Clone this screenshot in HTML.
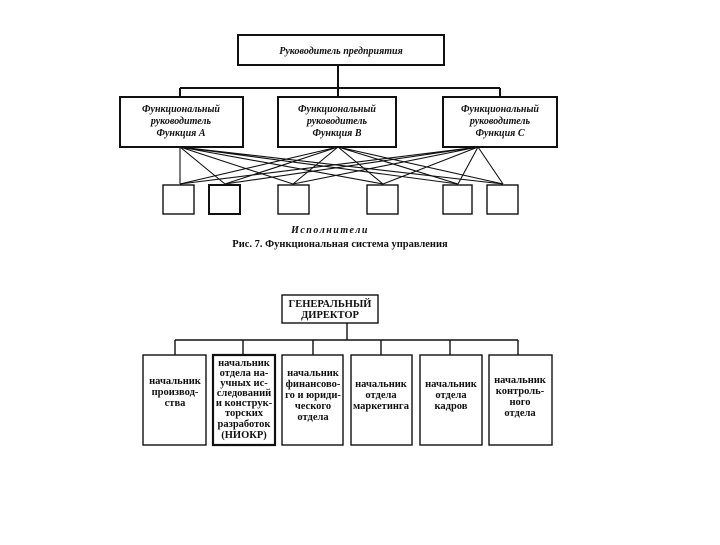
<!DOCTYPE html>
<html><head><meta charset="utf-8"><style>
body{margin:0;background:#fff}
svg text{font-family:"Liberation Serif",serif;fill:#111}
</style></head><body>
<svg width="720" height="540" viewBox="0 0 720 540" xmlns="http://www.w3.org/2000/svg">
<g stroke="#111" fill="none" stroke-width="1.4">
<rect x="238" y="35" width="206" height="30" stroke-width="2"/>
<path d="M338 65V88M180 88H500M180 88V97M338 88V97M500 88V97" stroke-width="2"/>
<rect x="120" y="97" width="123" height="50" stroke-width="2"/>
<rect x="278" y="97" width="118" height="50" stroke-width="2"/>
<rect x="443" y="97" width="114" height="50" stroke-width="2"/>
<g stroke-width="1.1">
<path d="M180 147L180 184M180 147L225 184M180 147L293 184M180 147L383 184M180 147L458 184M180 147L503 184"/>
<path d="M338 147L180 184M338 147L225 184M338 147L293 184M338 147L383 184M338 147L458 184M338 147L503 184"/>
<path d="M478 147L180 184M478 147L225 184M478 147L293 184M478 147L383 184M478 147L458 184M478 147L503 184"/>
</g>
<rect x="163" y="185" width="31" height="29"/>
<rect x="209" y="185" width="31" height="29" stroke-width="2"/>
<rect x="278" y="185" width="31" height="29"/>
<rect x="367" y="185" width="31" height="29"/>
<rect x="443" y="185" width="29" height="29"/>
<rect x="487" y="185" width="31" height="29"/>

<rect x="282" y="295" width="96" height="28"/>
<path d="M347 323V340M175 340H518M175 340V355M243 340V355M313 340V355M381 340V355M450 340V355M518 340V355"/>
<rect x="143" y="355" width="63" height="90"/>
<rect x="213" y="355" width="62" height="90" stroke-width="2.2"/>
<rect x="282" y="355" width="61" height="90"/>
<rect x="351" y="355" width="61" height="90"/>
<rect x="420" y="355" width="62" height="90"/>
<rect x="489" y="355" width="63" height="90"/>
</g>
<g font-style="italic" font-weight="bold" font-size="10" text-anchor="middle" font-family="Liberation Sans,sans-serif">
<text x="341" y="54">Руководитель предприятия</text>
<text x="181" y="112">Функциональный</text><text x="181" y="124">руководитель</text><text x="181" y="136">Функция А</text>
<text x="337" y="112">Функциональный</text><text x="337" y="124">руководитель</text><text x="337" y="136">Функция В</text>
<text x="500" y="112">Функциональный</text><text x="500" y="124">руководитель</text><text x="500" y="136">Функция С</text>
<text x="330" y="233" letter-spacing="1.5">Исполнители</text>
</g>
<text x="340" y="247" font-size="10.5" font-weight="bold" text-anchor="middle">Рис. 7. Функциональная система управления</text>
<g font-size="10.5" text-anchor="middle" font-weight="bold">
<text x="330" y="307">ГЕНЕРАЛЬНЫЙ</text><text x="330" y="318">ДИРЕКТОР</text>
<text x="175" y="384">начальник</text><text x="175" y="395">производ-</text><text x="175" y="406">ства</text>
<text x="244" y="366">начальник</text><text x="244" y="376">отдела на-</text><text x="244" y="386">учных ис-</text><text x="244" y="396">следований</text><text x="244" y="406">и конструк-</text><text x="244" y="416">торских</text><text x="244" y="427">разработок</text><text x="244" y="438">(НИОКР)</text>
<text x="313" y="376">начальник</text><text x="313" y="387">финансово-</text><text x="313" y="398">го и юриди-</text><text x="313" y="409">ческого</text><text x="313" y="420">отдела</text>
<text x="381" y="387">начальник</text><text x="381" y="398">отдела</text><text x="381" y="409">маркетинга</text>
<text x="451" y="387">начальник</text><text x="451" y="398">отдела</text><text x="451" y="409">кадров</text>
<text x="520" y="383">начальник</text><text x="520" y="394">контроль-</text><text x="520" y="405">ного</text><text x="520" y="416">отдела</text>
</g>
</svg>
</body></html>
